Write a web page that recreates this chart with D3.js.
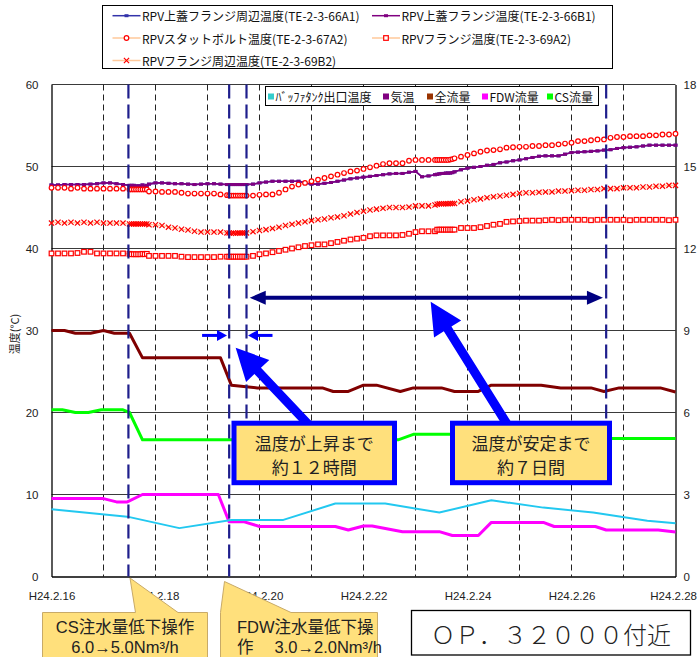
<!DOCTYPE html>
<html>
<head>
<meta charset="utf-8">
<script src="https://cdn.jsdelivr.net/npm/d3@7"></script>
<style>
  body { margin: 0; background: #fff; }
  svg { display: block; font-family: "Liberation Sans", Arial, "Noto Sans CJK JP", sans-serif; }
  .jp { font-family: "Noto Sans CJK JP", "Liberation Sans", sans-serif; }
</style>
</head>
<body>
<svg id="chart" width="697" height="657"></svg>
<script>
// ---- time base: hours after H24.2.16 00:00 ----
const hours3 = d3.range(0, 289, 3);                 // regular 3-hourly logging
const denseHours = [37, 38, 40, 41, 43, 44, 82, 83, 85, 86, 88, 89, 178, 179, 181, 182, 184, 185]; // hourly logging windows

// ---- RPV temperatures (°C, left axis), 3-hourly ----
const te66B1 = [
  47.75, 47.75, 47.8, 47.8, 47.8, 47.8, 47.85, 47.9,
  48.0, 48.0, 47.9, 47.8, 47.7, 47.6, 47.75, 47.85,
  48.0, 48.0, 47.95, 47.9, 47.9, 47.85, 47.8, 47.85,
  47.9, 47.9, 47.85, 47.8, 47.8, 47.8, 47.8, 47.85,
  48.0, 48.1, 48.2, 48.2, 48.2, 48.2, 48.2, 48.0,
  47.85, 47.85, 47.95, 48.05, 48.2, 48.35, 48.5, 48.6,
  48.7, 48.8, 48.9, 49.0, 49.1, 49.15, 49.15, 49.3,
  49.4, 48.75, 48.85, 49.0, 49.15, 49.2, 49.35, 49.6,
  49.8, 49.9, 50.0, 50.15, 50.25, 50.45, 50.55, 50.7,
  50.8, 50.95, 51.1, 51.25, 51.3, 51.3, 51.3, 51.5,
  51.7, 51.75, 51.8, 51.85, 51.9, 52.0, 52.05, 52.2,
  52.3, 52.35, 52.4, 52.5, 52.6, 52.6, 52.6, 52.6, 52.6
];
const te66A1 = te66B1.slice();
const te67A2 = [
  47.4, 47.4, 47.4, 47.3, 47.4, 47.3, 47.3, 47.3,
  47.3, 47.3, 47.3, 47.3, 47.2, 47.2, 47.2, 46.95,
  46.95, 46.9, 46.9, 46.9, 46.8, 46.7, 46.7, 46.7,
  46.7, 46.7, 46.6, 46.5, 46.45, 46.45, 46.45, 46.45,
  46.55, 46.6, 46.6, 46.8, 47.2, 47.55, 47.8, 48.0,
  48.2, 48.4, 48.6, 48.8, 49.0, 49.2, 49.4, 49.5,
  49.7, 49.9, 50.1, 50.3, 50.4, 50.4, 50.4, 50.7,
  50.8, 50.8, 50.8, 50.8, 50.8, 50.8, 51.0, 51.2,
  51.4, 51.6, 51.8, 51.95, 52.0, 52.1, 52.3, 52.35,
  52.4, 52.4, 52.5, 52.5, 52.6, 52.6, 52.7, 52.8,
  52.9, 53.1, 53.1, 53.2, 53.3, 53.3, 53.5, 53.6,
  53.6, 53.7, 53.7, 53.7, 53.8, 53.8, 53.9, 53.9, 54.0
];
const te69A2 = [
  39.4, 39.4, 39.4, 39.4, 39.45, 39.6, 39.6, 39.4,
  39.4, 39.4, 39.4, 39.4, 39.35, 39.3, 39.35, 39.1,
  39.1, 39.1, 39.1, 39.1, 39.0, 38.95, 38.95, 38.95,
  38.95, 38.95, 39.0, 39.0, 39.0, 39.0, 39.0, 39.1,
  39.3, 39.4, 39.55, 39.7, 39.85, 40.0, 40.15, 40.3,
  40.4, 40.5, 40.5, 40.65, 40.8, 40.95, 41.1, 41.2,
  41.3, 41.5, 41.6, 41.6, 41.6, 41.6, 41.65, 41.8,
  42.0, 42.1, 42.1, 42.1, 42.3, 42.3, 42.3, 42.5,
  42.5, 42.5, 42.6, 42.75, 42.9, 43.0, 43.25, 43.3,
  43.35, 43.4, 43.4, 43.4, 43.45, 43.5, 43.45, 43.5,
  43.5, 43.5, 43.5, 43.45, 43.5, 43.5, 43.5, 43.5,
  43.5, 43.45, 43.5, 43.5, 43.5, 43.5, 43.5, 43.45, 43.5
];
const te69B2 = [
  43.1, 43.2, 43.1, 43.2, 43.1, 43.2, 43.1, 43.2,
  43.1, 43.1, 43.1, 43.1, 43.0, 43.0, 43.0, 42.9,
  42.9, 42.8, 42.6, 42.5, 42.35, 42.25, 42.1, 42.0,
  42.0, 42.0, 42.0, 41.9, 41.9, 41.9, 41.9, 42.05,
  42.2, 42.3, 42.45, 42.6, 42.8, 42.95, 43.1, 43.25,
  43.4, 43.5, 43.6, 43.75, 43.85, 44.0, 44.2, 44.4,
  44.55, 44.7, 44.8, 44.9, 45.0, 45.0, 45.0, 45.05,
  45.2, 45.2, 45.2, 45.3, 45.45, 45.45, 45.5, 45.7,
  45.8, 45.95, 46.05, 46.2, 46.3, 46.4, 46.5, 46.6,
  46.75, 46.8, 46.8, 46.85, 46.9, 46.9, 47.0, 47.0,
  47.05, 47.1, 47.1, 47.2, 47.2, 47.3, 47.3, 47.3,
  47.4, 47.4, 47.4, 47.5, 47.5, 47.6, 47.6, 47.7, 47.7
];
// hourly readings inside the logging windows (same order as denseHours)
const te66B1Dense = [47.7, 47.7, 47.65, 47.6, 47.6, 47.7, 47.8, 47.8, 47.8, 47.8, 47.8, 47.8, 49.05, 49.1, 49.15, 49.2, 49.2, 49.25];
const te66A1Dense = te66B1Dense.slice();
const te67A2Dense = [47.2, 47.2, 47.2, 47.2, 47.2, 47.2, 46.45, 46.45, 46.45, 46.45, 46.45, 46.45, 50.8, 50.8, 50.8, 50.8, 50.85, 50.9];
const te69A2Dense = [39.3, 39.3, 39.3, 39.3, 39.3, 39.35, 39.0, 39.0, 39.0, 39.0, 39.0, 39.0, 42.3, 42.3, 42.3, 42.3, 42.3, 42.3];
const te69B2Dense = [43.0, 43.0, 43.0, 43.0, 43.0, 43.0, 41.9, 41.85, 41.85, 41.9, 41.9, 41.9, 45.4, 45.45, 45.45, 45.45, 45.5, 45.5];

// ---- buffer tank outlet temperature (°C, left axis) ----
const bufferHours = [0, 35, 59, 83, 107, 131, 154, 179, 203, 227, 250, 275, 288];
const bufferTemp  = [8.2, 7.3, 5.9, 6.9, 6.9, 8.9, 8.9, 7.8, 9.3, 8.4, 7.8, 6.8, 6.5];

// ---- flows (Nm3/h, right axis) ----
const totalHours = [0, 6, 11, 18, 24, 29, 36, 42, 78, 83, 95, 125, 130, 137, 144, 150, 161, 167, 180, 186, 197, 203, 226, 235, 249, 255, 262, 281, 288];
const totalFlow  = [9.0, 9.0, 8.9, 8.9, 9.0, 8.9, 8.9, 8.0, 8.0, 7.0, 6.9, 6.9, 6.77, 6.77, 7.0, 7.0, 6.77, 6.9, 6.9, 6.77, 6.77, 7.0, 7.0, 6.9, 6.9, 6.77, 6.9, 6.9, 6.75];
const fdwHours = [0, 24, 30, 35, 42, 77, 82, 89, 96, 131, 137, 144, 148, 162, 179, 185, 197, 203, 227, 232, 251, 256, 280, 288];
const fdwFlow  = [2.85, 2.85, 2.73, 2.73, 3.0, 3.0, 2.0, 2.0, 1.83, 1.83, 1.70, 1.85, 1.85, 1.64, 1.64, 1.50, 1.50, 1.98, 1.98, 1.83, 1.83, 1.70, 1.70, 1.63];
const csHours = [0, 5, 11, 17, 23, 33, 36, 42, 160, 167, 237, 240, 288];
const csFlow  = [6.1, 6.1, 6.0, 6.0, 6.1, 6.1, 6.0, 5.0, 5.0, 5.2, 5.2, 5.05, 5.05];

// ---- events, axes ----
const eventHours = [35.5, 82, 90, 256];
const leftTicks = [0, 10, 20, 30, 40, 50, 60];
const rightTicks = [0, 3, 6, 9, 12, 15, 18];
const dateTicks = [0, 48, 96, 144, 192, 240, 288];
const dateLabels = ["H24.2.16", "H24.2.18", "H24.2.20", "H24.2.22", "H24.2.24", "H24.2.26", "H24.2.28"];
const dayLines = d3.range(24, 288, 24);

// ---- layout ----
const X0 = 51.5, X1 = 675.5, Y0 = 576.5, Y1 = 84.5;
const x = d3.scaleLinear().domain([0, 288]).range([X0, X1]);
const yL = d3.scaleLinear().domain([0, 60]).range([Y0, Y1]);
const yR = d3.scaleLinear().domain([0, 18]).range([Y0, Y1]);
const svg = d3.select("#chart");

function merged(base, dense) {
  return hours3.map((h, i) => ({ h, v: base[i] }))
    .concat(denseHours.map((h, i) => ({ h, v: dense[i] })))
    .sort((a, b) => a.h - b.h);
}
function pairs(hs, vs) { return hs.map((h, i) => ({ h, v: vs[i] })); }

// ---- grid ----
const grid = svg.append("g");
grid.selectAll("line.h").data(leftTicks.filter(v => v > 0)).join("line")
  .attr("x1", X0).attr("x2", X1)
  .attr("y1", d => yL(d)).attr("y2", d => yL(d))
  .attr("stroke", "#3a3a3a").attr("stroke-width", 1);
grid.selectAll("line.v").data(dayLines).join("line")
  .attr("x1", d => x(d)).attr("x2", d => x(d))
  .attr("y1", Y1).attr("y2", Y0)
  .attr("stroke", "#222").attr("stroke-width", 1).attr("stroke-dasharray", "6,4");

// ---- axes ----
const axL = svg.append("g").attr("transform", `translate(${X0},0)`)
  .call(d3.axisLeft(yL).tickValues(leftTicks).tickSize(0).tickPadding(13));
const axR = svg.append("g").attr("transform", `translate(${X1},0)`)
  .call(d3.axisRight(yR).tickValues(rightTicks).tickSize(0).tickPadding(8));
const axB = svg.append("g").attr("transform", `translate(0,${Y0})`)
  .call(d3.axisBottom(x).tickValues(dateTicks).tickSize(0).tickPadding(15)
    .tickFormat((d, i) => dateLabels[i]));
[axL, axR, axB].forEach(a => {
  a.select(".domain").attr("stroke", "#000").attr("stroke-width", 1.3);
  a.selectAll("text").attr("font-size", 11.5).attr("fill", "#222")
    .attr("font-family", "'Liberation Sans', Arial, sans-serif");
});
// last date label sits flush with the right edge
axB.selectAll(".tick text").filter(d => d === 288).attr("text-anchor", "end").attr("dx", 21);

svg.append("text").attr("class", "jp")
  .attr("transform", "translate(14,334) rotate(-90)")
  .attr("text-anchor", "middle").attr("dominant-baseline", "central")
  .attr("font-size", 11).attr("fill", "#222").text("温度(°C)");

// ---- flow and tank lines ----
const lineR = d3.line().x(d => x(d.h)).y(d => yR(d.v));
const lineL = d3.line().x(d => x(d.h)).y(d => yL(d.v));
const flows = svg.append("g").attr("fill", "none").attr("stroke-linejoin", "round");
flows.append("path").datum(pairs(totalHours, totalFlow)).attr("d", lineR)
  .attr("stroke", "#800000").attr("stroke-width", 3);
flows.append("path").datum(pairs(csHours, csFlow)).attr("d", lineR)
  .attr("stroke", "#00ff00").attr("stroke-width", 3);
flows.append("path").datum(pairs(fdwHours, fdwFlow)).attr("d", lineR)
  .attr("stroke", "#ff00ff").attr("stroke-width", 3);
flows.append("path").datum(pairs(bufferHours, bufferTemp)).attr("d", lineL)
  .attr("stroke", "#22c8f0").attr("stroke-width", 2);

// ---- RPV temperature series ----
const temps = svg.append("g");
function purpleSeries(data, color) {
  temps.append("path").datum(data).attr("d", lineL)
    .attr("fill", "none").attr("stroke", color).attr("stroke-width", 1.6);
  temps.append("g").selectAll("rect").data(data).join("rect")
    .attr("x", d => x(d.h) - 2).attr("y", d => yL(d.v) - 1.5)
    .attr("width", 4).attr("height", 3).attr("fill", color);
}
purpleSeries(merged(te66A1, te66A1Dense), "#3333aa");
purpleSeries(merged(te66B1, te66B1Dense), "#800080");

function redSeries(data, shape) {
  temps.append("path").datum(data).attr("d", lineL)
    .attr("fill", "none").attr("stroke", "#ffc89a").attr("stroke-width", 1.2);
  const g = temps.append("g").attr("stroke", "#ff0000").attr("stroke-width", 1.2);
  if (shape === "circle") {
    g.selectAll("circle").data(data).join("circle")
      .attr("cx", d => x(d.h)).attr("cy", d => yL(d.v)).attr("r", 2.3).attr("fill", "#fff");
  } else if (shape === "square") {
    g.selectAll("rect").data(data).join("rect")
      .attr("x", d => x(d.h) - 2.3).attr("y", d => yL(d.v) - 2.3)
      .attr("width", 4.6).attr("height", 4.6).attr("fill", "#fff");
  } else {
    g.selectAll("path").data(data).join("path")
      .attr("transform", d => `translate(${x(d.h)},${yL(d.v)})`)
      .attr("d", "M-2.6,-2.6L2.6,2.6M-2.6,2.6L2.6,-2.6").attr("fill", "none");
  }
}
redSeries(merged(te69A2, te69A2Dense), "square");
redSeries(merged(te69B2, te69B2Dense), "cross");
redSeries(merged(te67A2, te67A2Dense), "circle");

// ---- operation / milestone lines ----
const boxTop = 421;
svg.append("g").selectAll("line").data(eventHours).join("line")
  .attr("x1", d => x(d)).attr("x2", d => x(d))
  .attr("y1", Y1).attr("y2", (d, i) => i < 2 ? Y0 : boxTop)
  .attr("stroke", "#1e1e8c").attr("stroke-width", 2.2).attr("stroke-dasharray", "14,6");

// ---- inner legend ----
const innerItems = [
  { label: "ﾊﾞｯﾌｧﾀﾝｸ出口温度", color: "#33cccc", sx: 268 },
  { label: "気温", color: "#800080", sx: 383 },
  { label: "全流量", color: "#993300", sx: 427 },
  { label: "FDW流量", color: "#ff00ff", sx: 482 },
  { label: "CS流量", color: "#00ff00", sx: 547 }
];
const il = svg.append("g");
il.append("rect").attr("x", 265.5).attr("y", 86.5).attr("width", 333).attr("height", 19)
  .attr("fill", "#fff").attr("stroke", "#000").attr("stroke-width", 1);
il.selectAll("rect.sw").data(innerItems).join("rect").attr("class", "sw")
  .attr("x", d => d.sx).attr("y", 93.5).attr("width", 6).attr("height", 6).attr("fill", d => d.color);
il.selectAll("text").data(innerItems).join("text").attr("class", "jp")
  .attr("x", d => d.sx + 7.5).attr("y", 96.5).attr("dominant-baseline", "central")
  .attr("font-size", 12).attr("fill", "#111").text(d => d.label);

// ---- top legend ----
const topItems = [
  { label: "RPV上蓋フランジ周辺温度(TE-2-3-66A1)", col: 0, row: 0, line: "#3333aa", mark: "sq", mc: "#3333aa" },
  { label: "RPV上蓋フランジ温度(TE-2-3-66B1)", col: 1, row: 0, line: "#800080", mark: "sq", mc: "#800080" },
  { label: "RPVスタットボルト温度(TE-2-3-67A2)", col: 0, row: 1, line: "#ffc89a", mark: "circle", mc: "#ff0000" },
  { label: "RPVフランジ温度(TE-2-3-69A2)", col: 1, row: 1, line: "#ffc89a", mark: "square", mc: "#ff0000" },
  { label: "RPVフランジ周辺温度(TE-2-3-69B2)", col: 0, row: 2, line: "#ffc89a", mark: "cross", mc: "#ff0000" }
];
const colX = [112.5, 372], rowY = [15.7, 38, 60.5];
const tl = svg.append("g");
tl.append("rect").attr("x", 102.5).attr("y", 5.5).attr("width", 510).attr("height", 63)
  .attr("fill", "#fff").attr("stroke", "#000").attr("stroke-width", 1);
topItems.forEach(it => {
  const lx = colX[it.col], ly = rowY[it.row], mx = lx + 14;
  tl.append("line").attr("x1", lx).attr("x2", lx + 28).attr("y1", ly).attr("y2", ly)
    .attr("stroke", it.line).attr("stroke-width", 1.5);
  if (it.mark === "sq") {
    tl.append("rect").attr("x", mx - 2).attr("y", ly - 1.5).attr("width", 4).attr("height", 3).attr("fill", it.mc);
  } else if (it.mark === "circle") {
    tl.append("circle").attr("cx", mx).attr("cy", ly).attr("r", 2.3).attr("fill", "#fff")
      .attr("stroke", it.mc).attr("stroke-width", 1.2);
  } else if (it.mark === "square") {
    tl.append("rect").attr("x", mx - 2.3).attr("y", ly - 2.3).attr("width", 4.6).attr("height", 4.6)
      .attr("fill", "#fff").attr("stroke", it.mc).attr("stroke-width", 1.2);
  } else {
    tl.append("path").attr("transform", `translate(${mx},${ly})`)
      .attr("d", "M-2.6,-2.6L2.6,2.6M-2.6,2.6L2.6,-2.6").attr("stroke", it.mc).attr("stroke-width", 1.2);
  }
  tl.append("text").attr("class", "jp").attr("x", lx + 29.5).attr("y", ly)
    .attr("dominant-baseline", "central").attr("font-size", 12).attr("fill", "#111").text(it.label);
});

// ---- arrows ----
const ann = svg.append("g");
function head(xTip, yTip, dir, len, half, color) {
  ann.append("polygon").attr("fill", color)
    .attr("points", `${xTip},${yTip} ${xTip - dir * len},${yTip - half} ${xTip - dir * len},${yTip + half}`);
}
// seven-day span
const spanY = yL(34.0), spanA = x(91.5), spanB = x(254.5);
ann.append("line").attr("x1", spanA + 10).attr("x2", spanB - 10).attr("y1", spanY).attr("y2", spanY)
  .attr("stroke", "#000080").attr("stroke-width", 4);
head(spanA, spanY, -1, 16, 7, "#000080");
head(spanB, spanY, 1, 16, 7, "#000080");
// twelve-hour span markers
const tickY = yL(29.4);
ann.append("line").attr("x1", x(69.5)).attr("x2", x(78)).attr("y1", tickY).attr("y2", tickY)
  .attr("stroke", "#0000ff").attr("stroke-width", 3);
head(x(81), tickY, 1, 10, 5.5, "#0000ff");
ann.append("line").attr("x1", x(102)).attr("x2", x(93.5)).attr("y1", tickY).attr("y2", tickY)
  .attr("stroke", "#0000ff").attr("stroke-width", 3);
head(x(90.7), tickY, -1, 10, 5.5, "#0000ff");

function fatArrow(x0, y0, x1, y1, shaft, headL, headW, color) {
  const dx = x1 - x0, dy = y1 - y0, L = Math.hypot(dx, dy);
  const ux = dx / L, uy = dy / L, px = -uy, py = ux;
  const bx = x1 - ux * headL, by = y1 - uy * headL;
  const pts = [
    [x0 + px * shaft / 2, y0 + py * shaft / 2], [bx + px * shaft / 2, by + py * shaft / 2],
    [bx + px * headW / 2, by + py * headW / 2], [x1, y1],
    [bx - px * headW / 2, by - py * headW / 2], [bx - px * shaft / 2, by - py * shaft / 2],
    [x0 - px * shaft / 2, y0 - py * shaft / 2]
  ];
  ann.append("polygon").attr("points", pts.map(p => p.join(",")).join(" ")).attr("fill", color);
}
fatArrow(308, 424, x(85), yL(27.9), 9, 32, 32, "#0000ff");
fatArrow(507, 424, x(175), yL(33.5), 9, 32, 32, "#0000ff");

// ---- note boxes ----
const notes = [
  { x: 234, w: 160.5, lines: ["温度が上昇まで", "約１２時間"] },
  { x: 452.5, w: 157, lines: ["温度が安定まで", "約７日間"] }
];
notes.forEach(n => {
  ann.append("rect").attr("x", n.x).attr("y", 423.2).attr("width", n.w).attr("height", 59.5)
    .attr("fill", "#ffe07c").attr("stroke", "#0000ff").attr("stroke-width", 5);
  n.lines.forEach((t, i) => {
    ann.append("text").attr("class", "jp").attr("x", n.x + n.w / 2).attr("y", 442 + i * 24)
      .attr("text-anchor", "middle").attr("dominant-baseline", "central")
      .attr("font-size", 17).attr("fill", "#222").text(t);
  });
});

// ---- operation callouts ----
const bubbleFill = "#ffe07c", bubbleStroke = "#c8aa68";
ann.append("path")
  .attr("d", "M42.5,612.5 H135.5 L130,578 L178,612.5 H207.5 V664 H42.5 Z")
  .attr("fill", bubbleFill).attr("stroke", bubbleStroke).attr("stroke-width", 1);
ann.append("path")
  .attr("d", "M220.5,612.5 L224.5,581.5 L291,612.5 H377.5 V664 H220.5 Z")
  .attr("fill", bubbleFill).attr("stroke", bubbleStroke).attr("stroke-width", 1);
const callFont = "'Liberation Sans', Arial, 'Noto Sans CJK JP', sans-serif";
[["CS注水量低下操作", 627], ["6.0→5.0Nm³/h", 647]].forEach(([t, y]) => {
  ann.append("text").attr("x", 125).attr("y", y).attr("text-anchor", "middle")
    .attr("dominant-baseline", "central").attr("font-size", 16.5).attr("fill", "#222")
    .attr("font-family", callFont).text(t);
});
[["FDW注水量低下操", 627], ["作\u3000 3.0→2.0Nm³/h", 647]].forEach(([t, y]) => {
  ann.append("text").attr("x", 237).attr("y", y)
    .attr("dominant-baseline", "central").attr("font-size", 16.5).attr("fill", "#222")
    .attr("font-family", callFont).attr("xml:space", "preserve").style("white-space", "pre").text(t);
});

// ---- elevation label ----
ann.append("rect").attr("x", 411.5).attr("y", 610.5).attr("width", 279).attr("height", 44.5)
  .attr("fill", "#fff").attr("stroke", "#000").attr("stroke-width", 1.3);
ann.append("text").attr("class", "jp").attr("x", 551).attr("y", 633)
  .attr("text-anchor", "middle").attr("dominant-baseline", "central")
  .attr("font-size", 24).attr("font-weight", 300).attr("fill", "#222").text("ＯＰ．３２０００付近");
</script>
</body>
</html>
